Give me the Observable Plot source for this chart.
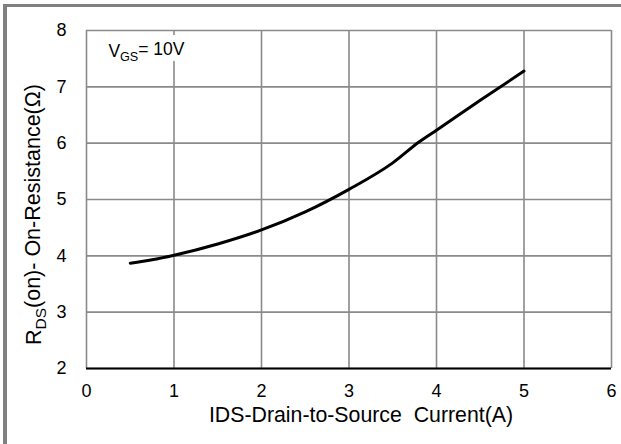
<!DOCTYPE html>
<html>
<head>
<meta charset="utf-8">
<script src="https://cdn.jsdelivr.net/npm/d3@7"></script>
<script src="https://cdn.jsdelivr.net/npm/@observablehq/plot@0.6"></script>
<style>
  html, body { margin: 0; padding: 0; background: #fff; }
  #wrap { position: relative; width: 621px; height: 444px; overflow: hidden; }
  #border { position: absolute; left: 3px; top: 4px; right: -10px; bottom: -10px;
            border-left: 4px solid #808080; border-top: 3px solid #808080; pointer-events: none; }
</style>
</head>
<body>
<div id="wrap"><div id="chart"></div><div id="border"></div></div>
<script>
// Data
const currentA   = [0.5, 0.75, 1.0, 1.5, 2.0, 2.5, 3.0, 3.5, 3.8, 4.0, 4.5, 5.0];
const resistance = [3.87, 3.93, 4.01, 4.21, 4.46, 4.78, 5.18, 5.65, 6.02, 6.23, 6.76, 7.28];
const xTicks = [0, 1, 2, 3, 4, 5, 6];
const yTicks = [2, 3, 4, 5, 6, 7, 8];
const xLabel = "IDS-Drain-to-Source  Current(A)";
const yLabel = "RDS(on)- On-Resistance(Ω)";
const note = "VGS= 10V";
const noteX = 0.25, noteY = 7.63;

const data = currentA.map((x, i) => ({x, y: resistance[i]}));
const grid = "#8a8a8a";

const chart = Plot.plot({
  width: 621,
  height: 444,
  marginLeft: 86,
  marginRight: 10,
  marginTop: 30,
  marginBottom: 76,
  style: {fontFamily: "'Liberation Sans', Arial, sans-serif", background: "transparent", color: "#000"},
  x: {domain: [0, 6], ticks: xTicks},
  y: {domain: [2, 8], ticks: yTicks},
  marks: [
    Plot.gridX(xTicks, {stroke: grid, strokeOpacity: 1, strokeWidth: 1.6}),
    Plot.gridY(yTicks, {stroke: grid, strokeOpacity: 1, strokeWidth: 1.6}),
    Plot.ruleY([2], {stroke: "#000", strokeWidth: 2}),
    Plot.axisX(xTicks, {tickSize: 0, tickPadding: 16, fontSize: 18, label: null, tickFormat: d => String(d)}),
    Plot.axisY(yTicks, {tickSize: 0, tickPadding: 20, fontSize: 18, label: null, tickFormat: d => String(d)}),
    Plot.line(data, {x: "x", y: "y", stroke: "#000", strokeWidth: 3, curve: "monotone-x"}),
    // white halo layer behind the note, then the note itself
    Plot.text([note], {x: () => noteX, y: () => noteY, textAnchor: "start", lineAnchor: "middle",
      fontSize: 17.5, fill: "white", stroke: "white", strokeWidth: 14}),
    Plot.text([note], {x: () => noteX, y: () => noteY, textAnchor: "start", lineAnchor: "middle",
      fontSize: 17.5, fill: "#000"}),
    Plot.text([xLabel], {frameAnchor: "bottom", lineAnchor: "middle", dx: 12, dy: 47, fontSize: 21.3, fill: "#000"}),
    Plot.text([yLabel], {frameAnchor: "left", rotate: -90, lineAnchor: "middle", textAnchor: "middle", dx: -52, dy: 15, fontSize: 21.5, fill: "#000"})
  ]
});
document.getElementById("chart").appendChild(chart);

// Subscripts (GS, DS)
function subscript(full, before, sub, after) {
  d3.select(chart).selectAll("text").filter(function() { return this.textContent === full; }).each(function() {
    const t = d3.select(this);
    t.text(null);
    t.append("tspan").text(before);
    t.append("tspan").attr("font-size", "0.72em").attr("dy", "0.3em").text(sub);
    t.append("tspan").attr("dy", "-0.3em").text(after);
  });
}
subscript(note, "V", "GS", "= 10V");
subscript(yLabel, "R", "DS", "(on)- On-Resistance(Ω)");
</script>
</body>
</html>
